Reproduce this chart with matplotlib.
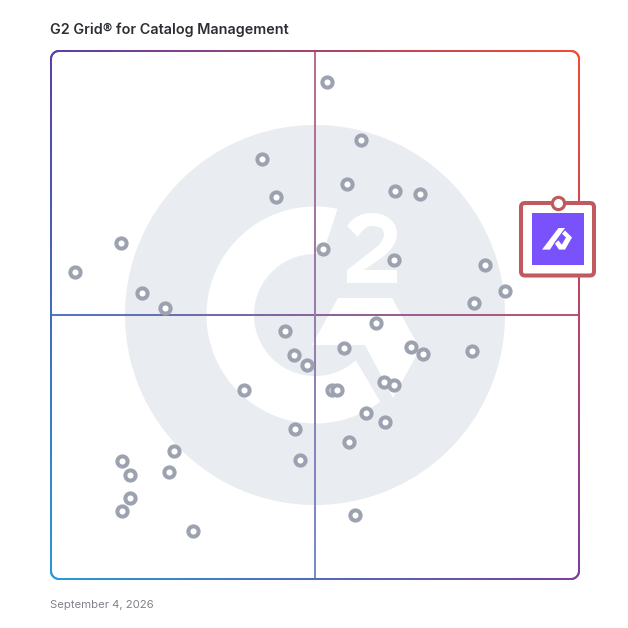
import numpy as np
import matplotlib
matplotlib.use("Agg")
import matplotlib.pyplot as plt
from matplotlib.path import Path
from matplotlib.collections import LineCollection
from matplotlib.colors import to_rgb
from matplotlib.patches import PathPatch, Circle, FancyBboxPatch, Polygon, Rectangle

TITLE = "G2 Grid® for Catalog Management"
DATE = "September 4, 2026"

# scores on the grid, 0-100 on each axis
market_presence = [52.3, 58.9, 40.0, 56.1, 65.2, 69.9, 42.8, 13.4, 51.7, 65.0, 82.2, 4.7, 86.0, 17.4,
                   80.3, 21.6, 61.7, 44.5, 55.5, 68.2, 70.6, 79.9, 46.2, 48.5, 36.7, 53.4, 54.2, 63.1,
                   65.0, 59.8, 63.3, 46.4, 56.6, 23.3, 47.3, 13.6, 15.0, 22.5, 15.0, 13.6, 57.6, 26.9]
satisfaction = [94.1, 83.0, 79.4, 74.8, 73.5, 72.9, 72.3, 63.6, 62.5, 60.4, 59.5, 58.1, 54.5, 54.2,
                52.3, 51.3, 48.5, 47.0, 43.6, 43.9, 42.6, 43.2, 42.4, 40.5, 35.8, 35.8, 35.8, 37.3,
                36.7, 31.4, 29.7, 28.4, 25.8, 24.1, 22.5, 22.2, 19.7, 20.3, 15.3, 12.9, 12.1, 9.1]
featured_x = [96.2]
featured_y = [71.1]

W = 628
fig = plt.figure(figsize=(6.28, 6.28), dpi=100, facecolor="white")

# pixel-space layer for the decoration
bg = fig.add_axes([0, 0, 1, 1])
bg.set_xlim(0, W); bg.set_ylim(W, 0); bg.axis("off")
GREY = "#e9ecf0"
bg.add_patch(Circle((315, 315), 190, fc=GREY, ec="none"))

# G of the watermark
R, r = 108.5, 61
a = np.radians(np.linspace(-78, -307, 120))
outer = np.c_[315 + R*np.cos(a), 315 + R*np.sin(a)]
a2 = np.radians(np.linspace(-312, -83, 120))
inner = np.c_[315 + r*np.cos(a2), 315 + r*np.sin(a2)]
bg.add_patch(Polygon(np.r_[outer, inner], closed=True, fc="white", ec="none"))
# chevron
bg.add_patch(Polygon([(338, 298), (392, 298), (420, 349), (393, 398), (365, 345), (312, 345)],
                     closed=True, fc="white", ec="none"))
# the 2
V = [(347, 226), (353, 217), (362, 213), (372, 213), (387, 213), (397, 222), (397, 234),
     (397, 243), (391, 250), (384, 256), (364, 270), (397, 270), (397, 283), (347, 283), (347, 270),
     (378, 246), (384, 240), (384, 234), (384, 226), (372, 226), (364, 226), (358, 237), (347, 226)]
C = [Path.MOVETO, Path.CURVE4, Path.CURVE4, Path.CURVE4, Path.CURVE4, Path.CURVE4, Path.CURVE4,
     Path.CURVE4, Path.CURVE4, Path.CURVE4, Path.LINETO, Path.LINETO, Path.LINETO, Path.LINETO, Path.LINETO,
     Path.LINETO, Path.CURVE3, Path.CURVE3, Path.CURVE3, Path.CURVE3, Path.CURVE3, Path.CURVE3, Path.LINETO]
bg.add_patch(PathPatch(Path(V, C), fc="white", ec="none"))

# gradient frame and cross
TL, TR, BL, BR = [np.array(to_rgb(c)) for c in ("#5a3fa8", "#f24c30", "#2a98d8", "#7b3f9f")]
X0, X1 = 51.0, 579.0

def colour_at(x, y):
    u = (x - X0) / (X1 - X0)
    v = (y - X0) / (X1 - X0)
    return (1-u)*(1-v)*TL + u*(1-v)*TR + (1-u)*v*BL + u*v*BR

def graded(points, lw, mix, z=3):
    points = np.asarray(points)
    segs = np.stack([points[:-1], points[1:]], axis=1)
    mids = segs.mean(axis=1)
    cols = [colour_at(*m)*mix + (1-mix)*np.ones(3) for m in mids]
    bg.add_collection(LineCollection(segs, colors=cols, linewidths=lw, capstyle="round", zorder=z))

def rounded_outline(x0, x1, rad, n=60):
    pts = []
    corners = [(x1-rad, x0+rad, -90), (x1-rad, x1-rad, 0), (x0+rad, x1-rad, 90), (x0+rad, x0+rad, 180)]
    for cx, cy, st in corners:
        th = np.radians(np.linspace(st, st+90, 12))
        arc = np.c_[cx + rad*np.cos(th), cy + rad*np.sin(th)]
        pts.append(arc)
        end = arc[-1]
        nxt = corners[(corners.index((cx, cy, st))+1) % 4]
        th2 = np.radians(nxt[2])
        start2 = np.array([nxt[0] + rad*np.cos(th2), nxt[1] + rad*np.sin(th2)])
        pts.append(np.linspace(end, start2, n)[1:-1])
    p = np.vstack(pts)
    return np.vstack([p, p[0]])

graded(np.c_[np.linspace(X0, X1, 120), np.full(120, 315.0)], 1.45, 0.92, z=2)
graded(np.c_[np.full(120, 315.0), np.linspace(X0, X1, 120)], 1.45, 0.78, z=2)
graded(rounded_outline(X0, X1, 8), 1.45, 1.0)

# data layer: the grid itself
ax = fig.add_axes([50.5/W, 1-578.7/W, 528/W, 528/W], facecolor="none")
ax.set_xlim(0, 100); ax.set_ylim(0, 100); ax.axis("off")
ax.scatter(market_presence, satisfaction, s=54, fc="white", ec="#9da2b0", lw=2.9, zorder=5, clip_on=False)

# featured product card (pixel layer on top)
top = fig.add_axes([0, 0, 1, 1], facecolor="none")
top.set_xlim(0, W); top.set_ylim(W, 0); top.axis("off")
CARD = "#bf5b5f"
top.add_patch(FancyBboxPatch((521, 203), 73, 72.5, boxstyle="round,pad=0,rounding_size=4",
                             fc="white", ec=CARD, lw=2.9))
top.add_patch(Rectangle((531.5, 213), 52, 52, fc="#7a52fb", ec="none"))
top.add_patch(Polygon([(542, 249.6), (558.5, 228), (565, 228), (555.5, 241), (550, 249.6)], fc="white", ec="none"))
top.add_patch(Polygon([(565, 230.5), (572, 237.5), (565, 249.6), (559, 249.6), (555, 243.7), (558.3, 240.3),
                       (561.7, 244.7), (566, 237.5), (562, 233.7)], fc="white", ec="none"))
ax2 = fig.add_axes(ax.get_position(), facecolor="none")
ax2.set_xlim(0, 100); ax2.set_ylim(0, 100); ax2.axis("off")
ax2.scatter(featured_x, featured_y, s=78, fc="white", ec=CARD, lw=2.3, zorder=6, clip_on=False)

fig.text(50/W, 1-29.5/W, TITLE, family="Inter", weight="semibold", fontsize=10.35, color="#2b2e33", va="center", ha="left")
fig.text(50/W, 1-604.5/W, DATE, family="Inter", fontsize=8.15, color="#7f8389", va="center", ha="left")

fig.savefig("out.png", dpi=100)
